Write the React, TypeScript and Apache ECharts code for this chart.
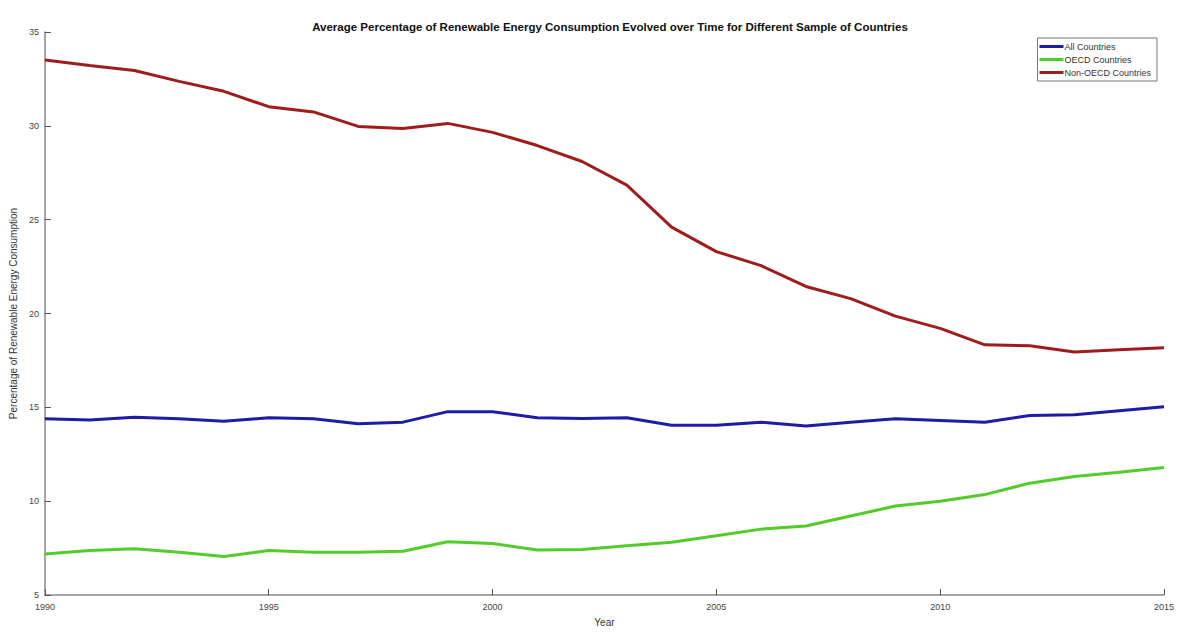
import React, { useEffect, useRef } from "react";
import * as echarts from "echarts";

const years = [1990,1991,1992,1993,1994,1995,1996,1997,1998,1999,2000,2001,2002,2003,2004,2005,2006,2007,2008,2009,2010,2011,2012,2013,2014,2015];

const allCountries = [14.39,14.33,14.47,14.39,14.26,14.44,14.39,14.12,14.21,14.77,14.77,14.44,14.40,14.44,14.04,14.04,14.21,14.0,14.21,14.39,14.30,14.21,14.56,14.61,14.82,15.03];
const oecdCountries = [7.19,7.37,7.46,7.28,7.05,7.37,7.28,7.28,7.33,7.84,7.75,7.40,7.42,7.63,7.81,8.16,8.51,8.68,9.21,9.74,10.0,10.35,10.96,11.32,11.54,11.79];
const nonOecdCountries = [33.51,33.21,32.95,32.37,31.84,31.02,30.74,29.97,29.86,30.13,29.65,28.95,28.1,26.84,24.6,23.3,22.55,21.44,20.79,19.86,19.21,18.33,18.28,17.95,18.07,18.18];

const seriesNames = ["All Countries", "OECD Countries", "Non-OECD Countries"];
const seriesColors = ["#1c1ca6", "#52cc28", "#9e1c1c"];

const titleText = "Average Percentage of Renewable Energy Consumption Evolved over Time for Different Sample of Countries";
const xName = "Year";
const yName = "Percentage of Renewable Energy Consumption";

export default function App() {
  const ref = useRef<HTMLDivElement>(null);
  useEffect(() => {
    if (!ref.current) return;
    const chart = echarts.init(ref.current, null, { renderer: "svg" });
    const seriesData = [allCountries, oecdCountries, nonOecdCountries];
    chart.setOption({
      animation: false,
      backgroundColor: "#ffffff",
      textStyle: { fontFamily: "Liberation Sans, Arial, sans-serif" },
      title: {
        text: titleText,
        left: 605,
        textAlign: "center",
        top: 16,
        textStyle: { fontSize: 11.5, fontWeight: "bold", color: "#111" },
      },
      legend: {
        orient: "vertical",
        right: 20,
        top: 38,
        itemWidth: 24,
        itemHeight: 3,
        itemGap: 4,
        padding: [4, 6, 4, 2],
        borderColor: "#777",
        borderWidth: 1,
        icon: "rect",
        data: seriesNames,
        textStyle: { fontSize: 9, color: "#333", padding: [0, 0, 0, -4] },
      },
      grid: { left: 42, right: 11, top: 32, bottom: 31, containLabel: false },
      xAxis: {
        type: "value",
        min: 1990,
        max: 2015,
        interval: 5,
        name: xName,
        nameLocation: "middle",
        nameGap: 22,
        nameTextStyle: { fontSize: 10, color: "#333" },
        axisLine: { show: true, lineStyle: { color: "#888", width: 1.5 } },
        axisTick: { show: true, inside: true, length: 6, lineStyle: { color: "#555" } },
        axisLabel: { fontSize: 9, color: "#444", margin: 7, formatter: (v: number) => String(v) },
        splitLine: { show: false },
      },
      yAxis: {
        type: "value",
        min: 5,
        max: 35,
        interval: 5,
        name: yName,
        nameLocation: "middle",
        nameRotate: 90,
        nameGap: 20,
        nameTextStyle: { fontSize: 10, color: "#333" },
        axisLine: { show: true, lineStyle: { color: "#888", width: 1.5 } },
        axisTick: { show: true, inside: true, length: 6, lineStyle: { color: "#555" } },
        axisLabel: { fontSize: 9, color: "#444", margin: 6 },
        splitLine: { show: false },
      },
      series: seriesNames.map((name, i) => ({
        name,
        type: "line",
        data: years.map((y, j) => [y, seriesData[i][j]]),
        showSymbol: false,
        symbol: "none",
        lineStyle: { width: 3, color: seriesColors[i] },
        itemStyle: { color: seriesColors[i] },
      })),
    });
    return () => chart.dispose();
  }, []);
  return <div ref={ref} style={{ width: 1177, height: 632, position: "absolute", left: 0, top: 0 }} />;
}
